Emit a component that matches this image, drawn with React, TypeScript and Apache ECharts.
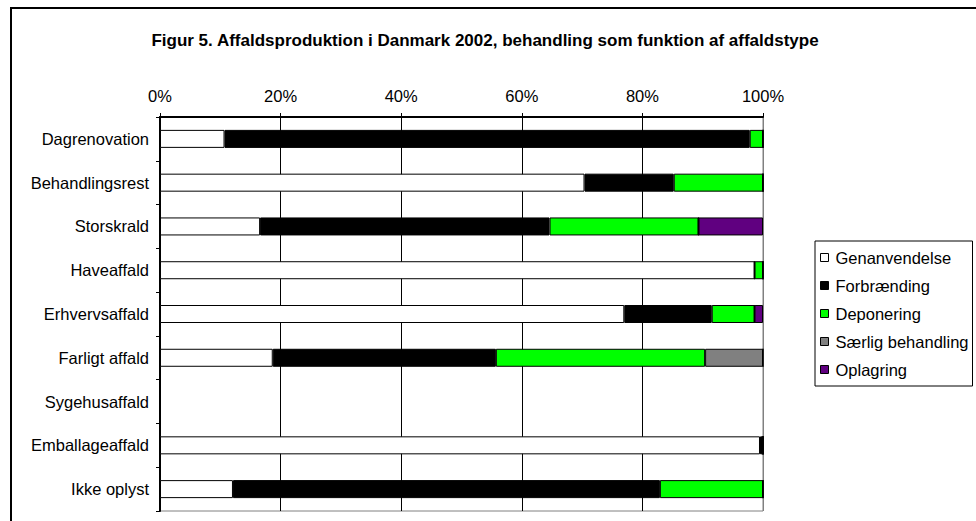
import React, { useEffect, useRef } from "react";
import * as echarts from "echarts";

const categories = [
  "Dagrenovation",
  "Behandlingsrest",
  "Storskrald",
  "Haveaffald",
  "Erhvervsaffald",
  "Farligt affald",
  "Sygehusaffald",
  "Emballageaffald",
  "Ikke oplyst",
];
const seriesNames = ["Genanvendelse", "Forbrænding", "Deponering", "Særlig behandling", "Oplagring"];
const genanvendelse = [10.7, 70.4, 16.6, 98.6, 77.0, 18.7, 0, 99.5, 12.1];
const forbraending = [87.1, 14.8, 48.0, 0, 14.5, 37.0, 0, 0.5, 70.8];
const deponering = [2.2, 14.8, 24.7, 1.4, 7.1, 34.7, 0, 0, 17.1];
const saerlig = [0, 0, 0, 0, 0, 9.6, 0, 0, 0];
const oplagring = [0, 0, 10.7, 0, 1.4, 0, 0, 0, 0];
const colors = ["#FFFFFF", "#000000", "#00FF00", "#808080", "#600080"];
const tickLabels = ["0%", "20%", "40%", "60%", "80%", "100%"];
const title = "Figur 5. Affaldsproduktion i Danmark 2002, behandling som funktion af affaldstype";

export default function App() {
  const ref = useRef<HTMLDivElement>(null);
  useEffect(() => {
    if (!ref.current) return;
    const chart = echarts.init(ref.current, undefined, { renderer: "svg" });
    const values = [genanvendelse, forbraending, deponering, saerlig, oplagring];
    const font = "'Liberation Sans', Arial, sans-serif";
    chart.setOption({
      animation: false,
      backgroundColor: "#FFFFFF",
      textStyle: { fontFamily: font },
      graphic: [
        {
          type: "rect",
          shape: { x: 11, y: 8, width: 1000, height: 600 },
          style: { fill: "none", stroke: "#000", lineWidth: 2 },
          silent: true,
        },
        {
          type: "text",
          x: 485,
          y: 40,
          style: {
            text: title,
            font: `bold 17px ${font}`,
            fill: "#000",
            textAlign: "center",
            textVerticalAlign: "middle",
          },
        },
      ],
      grid: {
        left: 160,
        top: 117,
        width: 603,
        height: 394,
        show: true,
        borderColor: "#808080",
        borderWidth: 1,
        backgroundColor: "#FFFFFF",
      },
      legend: {
        orient: "vertical",
        left: 815,
        top: 241,
        padding: [8, 4, 8, 5],
        itemGap: 11,
        itemWidth: 8,
        itemHeight: 8,
        borderColor: "#000",
        borderWidth: 1,
        backgroundColor: "#FFFFFF",
        icon: "rect",
        itemStyle: { borderColor: "#000", borderWidth: 1 },
        textStyle: { fontSize: 16.5, color: "#000", fontFamily: font, lineHeight: 17, padding: [0, 0, 0, 2] },
        data: seriesNames,
      },
      xAxis: {
        type: "value",
        position: "top",
        min: 0,
        max: 100,
        interval: 20,
        axisLine: { show: true, lineStyle: { color: "#000", width: 2 } },
        axisTick: { show: true, inside: false, length: 4, lineStyle: { color: "#000" } },
        axisLabel: {
          margin: 13,
          fontSize: 16.5,
          color: "#000",
          fontFamily: font,
          formatter: (v: number) => tickLabels[Math.round(v / 20)],
        },
        splitLine: {
          show: true,
          lineStyle: { color: ["#000", "#000", "#000", "#000", "#000", "#808080"], width: 1 },
        },
      },
      yAxis: {
        type: "category",
        inverse: true,
        data: categories,
        axisLine: { show: true, lineStyle: { color: "#000", width: 2 } },
        axisTick: { show: true, inside: false, length: 4, lineStyle: { color: "#000" } },
        axisLabel: { margin: 11, fontSize: 16.5, color: "#000", fontFamily: font },
        splitLine: { show: false },
      },
      series: seriesNames.map((name, i) => ({
        name,
        type: "bar",
        stack: "total",
        barWidth: 18,
        data: values[i],
        itemStyle: { color: colors[i], borderColor: "#000", borderWidth: 1 },
        emphasis: { disabled: true },
      })),
    });
    return () => chart.dispose();
  }, []);
  return (
    <div
      ref={ref}
      style={{ position: "absolute", left: 0, top: 0, width: 976, height: 521 }}
    />
  );
}
